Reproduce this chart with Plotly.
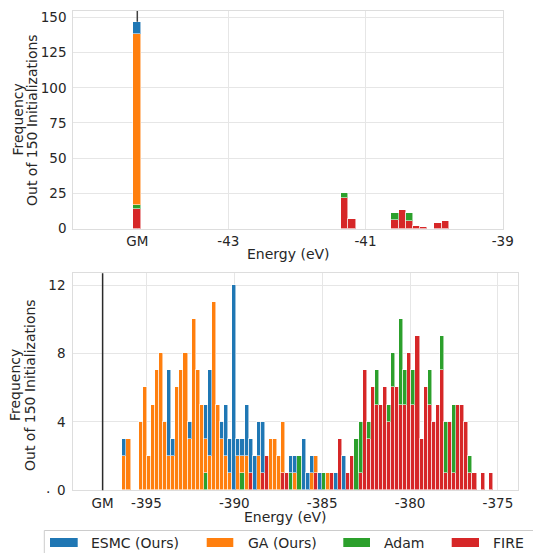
import numpy as np
import plotly.graph_objects as go

W, H = 541, 553
OFF = 8  # page body margin of the html page

COLORS = {"ESMC (Ours)": "#1f77b4", "GA (Ours)": "#ff7f0e", "Adam": "#2ca02c", "FIRE": "#d62728"}

# ---------------- top panel (LJ13) ----------------
GM_TOP = -44.3268
top_bin_width = 0.1045
top_energy = [-44.327, -41.296, -41.192, -40.565, -40.461, -40.356, -40.252, -40.147, -39.938, -39.833]
top_fire = [14, 22, 7, 6, 13, 5, 2, 1, 4, 5]
top_adam = [3, 3, 0, 5, 0, 6, 0, 0, 0, 0]
top_ga = [121, 0, 0, 0, 0, 0, 0, 0, 0, 0]
top_esmc = [9, 0, 0, 0, 0, 0, 0, 0, 0, 0]
top_xticks = [GM_TOP, -43, -41, -39]
top_xticktext = ["GM", "-43", "-41", "-39"]
top_yticks = [0, 25, 50, 75, 100, 125, 150]

# ---------------- bottom panel (LJ75) ----------------
GM_BOT = -397.492
bot_first_center = -396.232
bot_bin_width = 0.2316
bot_fire = [0, 0, 0, 0, 0, 0, 0, 0, 0, 0, 0, 0, 0, 0, 0, 0, 0, 0, 0, 0,
            0, 0, 0, 0, 0, 0, 0, 0, 0, 0, 0, 1, 0, 0, 1, 2, 0, 0, 0, 1,
            1, 0, 0, 0, 0, 0, 0, 1, 0, 0, 0, 1, 0, 3, 0, 1, 2, 0, 1, 7,
            3, 6, 5, 5, 6, 4, 6, 6, 5, 5, 8, 5, 9, 3, 6, 5, 4, 5, 7, 1,
            4, 1, 5, 5, 4, 1, 1, 0, 1, 0, 1]
bot_adam = [0, 0, 0, 0, 0, 0, 0, 0, 0, 0, 0, 0, 0, 0, 0, 0, 0, 0, 0, 0,
            1, 0, 0, 0, 0, 0, 0, 0, 0, 1, 0, 0, 0, 0, 0, 0, 0, 0, 0, 0,
            0, 1, 0, 2, 0, 0, 0, 0, 0, 1, 0, 0, 0, 0, 0, 0, 0, 3, 3, 0,
            1, 0, 2, 0, 0, 1, 2, 0, 5, 2, 0, 2, 0, 0, 0, 2, 0, 0, 2, 3,
            0, 4, 0, 0, 0, 1, 0, 0, 0, 0, 0]
bot_ga = [2, 3, 0, 0, 4, 6, 2, 5, 7, 8, 4, 2, 2, 6, 7, 8, 3, 10, 7, 5,
          2, 2, 11, 5, 3, 2, 1, 0, 2, 1, 2, 0, 0, 2, 0, 0, 3, 3, 2, 3,
          0, 0, 1, 0, 0, 0, 1, 1, 0, 0, 1, 0, 0, 0, 0, 0, 0, 0, 0, 0,
          0, 0, 0, 0, 0, 0, 0, 0, 0, 0, 0, 0, 0, 0, 0, 0, 0, 0, 0, 0,
          0, 0, 0, 0, 0, 0, 0, 0, 0, 0, 0]
bot_esmc = [1, 0, 0, 0, 0, 0, 0, 0, 0, 0, 0, 5, 1, 0, 0, 0, 1, 0, 0, 0,
            2, 5, 0, 0, 1, 3, 2, 12, 1, 1, 3, 2, 2, 2, 3, 0, 0, 0, 0, 0,
            0, 1, 1, 0, 3, 1, 1, 0, 1, 0, 0, 0, 1, 0, 2, 0, 0, 0, 0, 0,
            0, 0, 0, 0, 0, 0, 0, 0, 0, 0, 0, 0, 0, 0, 0, 0, 0, 0, 0, 0,
            0, 0, 0, 0, 0, 0, 0, 0, 0, 0, 0]
bot_xticks = [GM_BOT, -395, -390, -385, -380, -375]
bot_xticktext = ["GM", "-395", "-390", "-385", "-380", "-375"]
bot_yticks = [0, 4, 8, 12]

bot_energy = bot_first_center + bot_bin_width * np.arange(len(bot_fire))

TXT = "#262626"
FONT = "DejaVu Sans"


def nz(v):
    return [None if c == 0 else c for c in v]


fig = go.Figure()
series_top = [("FIRE", top_fire), ("Adam", top_adam), ("GA (Ours)", top_ga), ("ESMC (Ours)", top_esmc)]
series_bot = [("FIRE", bot_fire), ("Adam", bot_adam), ("GA (Ours)", bot_ga), ("ESMC (Ours)", bot_esmc)]
for name, vals in series_top:
    fig.add_trace(go.Bar(x=top_energy, y=nz(vals), width=top_bin_width, name=name,
                         marker=dict(color=COLORS[name], line=dict(color="rgba(255,255,255,0.55)", width=1)),
                         xaxis="x", yaxis="y", showlegend=False))
for name, vals in series_bot:
    fig.add_trace(go.Bar(x=bot_energy, y=nz(vals), width=bot_bin_width, name=name,
                         marker=dict(color=COLORS[name], line=dict(color="rgba(255,255,255,0.55)", width=1)),
                         xaxis="x2", yaxis="y2", showlegend=False))


def px(x):
    return (x - OFF) / W


def py(y):
    return 1 - (y - OFF) / H


axis_common = dict(showgrid=True, gridcolor="#E6E6E6", gridwidth=1.3, showline=True,
                   linecolor="#DDDDDD", linewidth=1.2, mirror=True, zeroline=False, ticks="",
                   tickfont=dict(size=13.5, color=TXT, family=FONT), fixedrange=True)

fig.update_layout(
    width=W, height=H, autosize=False,
    margin=dict(l=0, r=0, t=0, b=0, autoexpand=False),
    paper_bgcolor="white", plot_bgcolor="white",
    barmode="stack", bargap=0,
    font=dict(family=FONT, color=TXT, size=14),
    xaxis=dict(domain=[px(73.3), px(502.7)], range=[-45.26, -39.0], tickmode="array",
               tickvals=top_xticks, ticktext=top_xticktext, anchor="y", ticklabelstandoff=0, **axis_common),
    yaxis=dict(domain=[py(228.5), py(11)], range=[0, 154.6], tickmode="array",
               tickvals=top_yticks, anchor="x", ticklabelstandoff=3, **axis_common),
    xaxis2=dict(domain=[px(73.3), px(518.3)], range=[-399.16, -373.84], tickmode="array",
                tickvals=bot_xticks, ticktext=bot_xticktext, anchor="y2", ticklabelstandoff=0, **axis_common),
    yaxis2=dict(domain=[py(490.3), py(273.3)], range=[0, 12.69], tickmode="array",
                tickvals=bot_yticks, anchor="x2", ticklabelstandoff=4, **axis_common),
)

gm_stack_top = top_fire[0] + top_adam[0] + top_ga[0] + top_esmc[0]
shapes = [
    dict(type="line", xref="x", yref="y", x0=GM_TOP, x1=GM_TOP, y0=gm_stack_top, y1=154.6,
         line=dict(color="#404040", width=1.5), layer="above"),
    dict(type="line", xref="x2", yref="paper", x0=GM_BOT, x1=GM_BOT, y0=py(490.3), y1=py(273.3),
         line=dict(color="#2a2a2a", width=1.5), layer="above"),
    # legend frame
    dict(type="rect", xref="paper", yref="paper", x0=px(44.3), x1=px(570), y0=py(570), y1=py(530.5),
         line=dict(color="#CCCCCC", width=1), fillcolor="white", layer="above"),
]
legend_items = [("ESMC (Ours)", 50, 77.7, 89.3), ("GA (Ours)", 206.7, 233.3, 245.7),
                ("Adam", 343.3, 370, 382.3), ("FIRE", 451.7, 479, 490.7)]
annotations = []
for name, sx0, sx1, tx in legend_items:
    shapes.append(dict(type="rect", xref="paper", yref="paper", x0=px(sx0), x1=px(sx1),
                       y0=py(547), y1=py(538), line=dict(width=0), fillcolor=COLORS[name], layer="above"))
    annotations.append(dict(text=name, xref="paper", yref="paper", x=px(tx), y=py(542.5),
                            xanchor="left", yanchor="middle", showarrow=False,
                            font=dict(size=14, color=TXT, family=FONT)))


def label(text, x, y, angle=0):
    return dict(text=text, xref="paper", yref="paper", x=px(x), y=py(y), xanchor="center",
                yanchor="middle", textangle=angle, showarrow=False,
                font=dict(size=14, color=TXT, family=FONT))


annotations += [
    label("Energy (eV)", 288, 254),
    label("Energy (eV)", 285, 517),
    label("Frequency", 17.5, 120, -90),
    label("Out of 150 Initializations", 32, 120, -90),
    label("Frequency", 15, 385, -90),
    label("Out of 150 Initializations", 30, 385, -90),
    label(".", 47.5, 488),
]

fig.update_layout(shapes=shapes, annotations=annotations)
fig.write_html("out.html")
